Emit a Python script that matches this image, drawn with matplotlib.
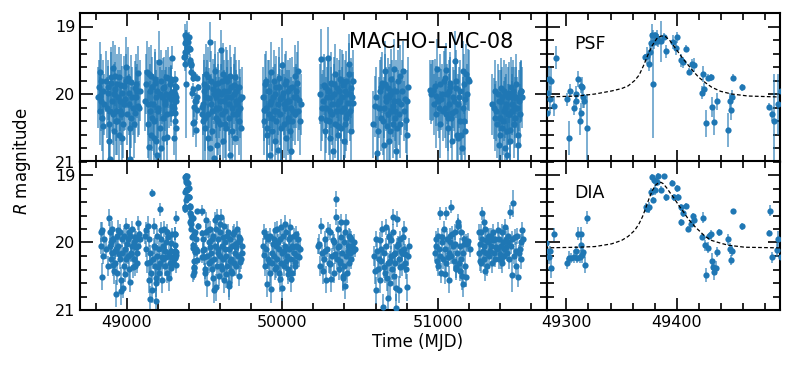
import numpy as np
import matplotlib
matplotlib.use("Agg")
import matplotlib.pyplot as plt
from matplotlib.ticker import MultipleLocator, FixedLocator, FormatStrFormatter

# ---------------- PSF photometry (MJD, R mag, error) ----------------
psf_t_s1 = [48822, 48826, 48831, 48837, 48848, 48869, 48880, 48886, 48891, 48895, 48901, 48912, 48916, 48923, 48929, 48933, 48944, 48955, 48966, 48972, 48981, 48994, 48998, 49009, 49015, 49019, 49024, 49030, 49041, 49051, 49062, 49073, 49079,
            48818, 48828, 48834, 48840, 48845, 48852, 48875, 48883, 48889, 48898, 48905, 48909, 48920, 48926, 48938, 48941, 48948, 48952, 48960, 48963, 48969, 48977, 48985, 48990, 49004, 49012, 49027, 49035, 49045, 49055, 49058, 49066, 49070, 49083]
psf_m_s1 = [19.89, 19.68, 20.03, 20.10, 20.48, 19.81, 19.98, 20.70, 20.25, 20.97, 19.83, 19.61, 20.00, 19.73, 20.40, 20.25, 20.05, 20.25, 19.86, 20.65, 20.15, 19.60, 19.81, 19.76, 19.98, 20.97, 20.50, 20.35, 20.20, 19.91, 20.05, 19.69, 20.21,
            20.05, 20.25, 19.80, 20.35, 19.95, 20.15, 20.20, 19.90, 20.45, 19.75, 20.10, 20.30, 20.55, 19.92, 19.85, 20.40, 20.60, 19.75, 20.10, 20.30, 19.98, 20.45, 19.88, 20.08, 20.30, 20.15, 19.82, 20.05, 20.45, 20.28, 19.85, 19.95, 20.18, 19.95]
psf_e_s1 = [0.40, 0.45, 0.35, 0.45, 0.50, 0.45, 0.40, 0.50, 0.45, 0.55, 0.45, 0.40, 0.45, 0.45, 0.50, 0.45, 0.40, 0.45, 0.45, 0.50,
            0.40, 0.45, 0.40, 0.45, 0.40, 0.55, 0.45, 0.45, 0.40, 0.40, 0.45, 0.40, 0.40, 0.45, 0.50, 0.40, 0.50, 0.45, 0.45, 0.45,
            0.40, 0.50, 0.45, 0.45, 0.45, 0.50, 0.40, 0.45, 0.50, 0.50, 0.45, 0.45, 0.45, 0.40, 0.50, 0.45, 0.45, 0.45, 0.45, 0.40,
            0.45, 0.50, 0.45, 0.45, 0.40, 0.45, 0.45, 0.45, 0.45, 0.45]

psf_t_s2 = [49131, 49137, 49144, 49152, 49159, 49165, 49174, 49180, 49186, 49195, 49201, 49208, 49212, 49223, 49234, 49244, 49255, 49259, 49266,
            49120, 49127, 49134, 49141, 49147, 49155, 49162, 49169, 49177, 49183, 49189, 49198, 49204, 49215, 49219, 49227, 49231, 49238, 49241, 49248, 49251, 49262, 49270, 49276]
psf_m_s2 = [19.67, 20.15, 20.78, 19.95, 19.73, 20.35, 20.65, 19.83, 20.05, 20.90, 20.25, 19.52, 20.00, 20.80, 19.91, 20.15, 20.00, 20.63, 19.76,
            20.10, 19.85, 20.45, 19.70, 20.25, 20.60, 19.90, 20.15, 20.40, 19.78, 20.70, 19.95, 20.20, 20.50, 19.80, 20.05, 20.35, 19.90, 20.65, 20.10, 19.75, 20.30, 20.05, 19.85]
psf_e_s2 = [0.45, 0.45, 0.50, 0.40, 0.45, 0.50, 0.50, 0.45, 0.40, 0.55, 0.45, 0.45, 0.40, 0.50, 0.45, 0.45, 0.40, 0.50, 0.45,
            0.45, 0.45, 0.50, 0.40, 0.45, 0.50, 0.45, 0.45, 0.50, 0.45, 0.55, 0.45, 0.45, 0.50, 0.45, 0.40, 0.45, 0.45, 0.50, 0.45, 0.40, 0.45, 0.45, 0.40, 0.45]

psf_t_ev = [49282.7, 49283.9, 49284.8, 49285.8, 49282.7, 49288.8, 49290.9, 49300.9, 49302.1, 49303.0, 49307.0, 49308.2, 49309.1, 49310.6, 49312.1, 49313.0, 49313.0, 49314.2, 49315.1, 49316.0, 49318.2,
            49371.2, 49373.6, 49374.8, 49375.8, 49376.7, 49377.9, 49378.8, 49379.7, 49380.3, 49381.8, 49383.3, 49385.8, 49388.8, 49390.0, 49397.0, 49399.1, 49400.0, 49404.0, 49406.0, 49409.0,
            49411.2, 49413.6, 49416.0, 49422.7, 49424.2, 49425.1, 49426.7, 49428.8, 49431.2, 49432.4, 49434.2, 49436.4, 49447.0, 49448.5, 49449.4, 49450.6, 49451.5, 49459.7, 49484.0, 49487.0, 49488.2]
psf_m_ev = [19.99, 19.78, 20.08, 19.81, 20.28, 20.18, 19.46, 20.08, 20.65, 19.95, 20.21, 20.11, 20.00, 19.78, 20.40, 19.88, 20.28, 19.90, 20.05, 20.10, 20.50,
            19.45, 19.43, 19.56, 19.38, 19.24, 19.12, 19.85, 19.23, 19.13, 19.17, 19.21, 19.22, 19.15, 19.37, 19.23, 19.32, 19.16, 19.50, 19.53, 19.33,
            19.67, 19.56, 19.57, 19.98, 19.70, 19.93, 20.43, 19.76, 19.75, 20.19, 20.41, 20.11, 20.53, 20.10, 20.23, 20.04, 19.76, 19.90, 20.19, 20.30, 20.40]
psf_e_ev = [0.42, 0.20, 0.20, 0.20, 0.20, 0.15, 0.17, 0.10, 0.25, 0.10, 0.10, 0.10, 0.12, 0.12, 0.20, 0.10, 0.15, 0.15, 0.15, 0.10, 0.50,
            0.05, 0.12, 0.10, 0.15, 0.15, 0.15, 0.80, 0.10, 0.05, 0.12, 0.10, 0.30, 0.05, 0.10, 0.10, 0.10, 0.08, 0.10, 0.08, 0.05,
            0.05, 0.08, 0.10, 0.10, 0.12, 0.10, 0.20, 0.05, 0.05, 0.15, 0.20, 0.12, 0.25, 0.12, 0.15, 0.10, 0.05, 0.05, 0.05, 0.10, 0.70]

psf_t_s3 = [49495, 49502, 49512, 49523, 49529, 49534, 49538, 49544, 49551, 49555, 49559, 49566, 49572, 49577, 49581, 49587, 49594, 49598, 49604, 49609, 49615, 49620, 49624, 49630, 49637, 49641, 49652, 49658, 49662, 49667, 49673, 49684, 49688, 49694, 49701, 49705, 49716, 49722, 49727,
            49492, 49498, 49506, 49509, 49516, 49520, 49526, 49541, 49548, 49562, 49569, 49575, 49584, 49590, 49601, 49612, 49618, 49627, 49634, 49644, 49648, 49655, 49670, 49677, 49680, 49691, 49697, 49709, 49712, 49719, 49731, 49736, 49742]
psf_m_s3 = [19.95, 20.50, 19.71, 20.65, 20.06, 19.23, 20.80, 19.81, 20.25, 19.93, 20.95, 19.66, 20.35, 20.05, 20.75, 19.83, 20.20, 20.45, 19.35, 20.00, 19.81, 20.70, 20.10, 20.25, 19.76, 20.50, 19.95, 20.15, 19.73, 20.90, 20.05, 20.30, 19.86, 20.65, 20.10, 19.95, 20.25, 20.40, 20.08,
            20.15, 19.85, 20.35, 20.05, 19.90, 20.30, 19.75, 20.15, 20.55, 20.00, 19.85, 20.20, 19.95, 20.40, 20.10, 20.30, 19.70, 19.95, 20.45, 20.05, 19.80, 20.35, 19.90, 20.20, 20.55, 20.00, 19.75, 20.30, 20.15, 19.90, 20.20, 20.50, 20.05]
psf_e_s3 = [0.45, 0.50, 0.45, 0.50, 0.45, 0.30, 0.50, 0.45, 0.45, 0.45, 0.55, 0.45, 0.45, 0.45, 0.50, 0.45, 0.45, 0.50, 0.30, 0.45,
            0.45, 0.50, 0.45, 0.45, 0.45, 0.50, 0.45, 0.45, 0.45, 0.55, 0.45, 0.45, 0.45, 0.50, 0.45, 0.45, 0.45, 0.50, 0.45,
            0.45, 0.45, 0.50, 0.45, 0.40, 0.50, 0.45, 0.45, 0.50, 0.45, 0.45, 0.45, 0.40, 0.50, 0.45, 0.45, 0.45, 0.45, 0.50, 0.45,
            0.45, 0.50, 0.45, 0.45, 0.50, 0.45, 0.45, 0.45, 0.45, 0.40, 0.45, 0.50, 0.45, 0.45, 0.45]

psf_t_s4 = [49881, 49894, 49902, 49909, 49920, 49924, 49930, 49937, 49941, 49952, 49958, 49967, 49973, 49980, 49984, 49990, 49995, 50001, 50005, 50016, 50022, 50027, 50037, 50044, 50052, 50059, 50070, 50080, 50087, 50095, 50102, 50108,
            49877, 49886, 49890, 49898, 49905, 49913, 49917, 49927, 49933, 49945, 49948, 49955, 49962, 49970, 49977, 49987, 49998, 50009, 50012, 50019, 50031, 50034, 50040, 50048, 50056, 50063, 50066, 50075, 50084, 50091, 50099, 50112, 50118]
psf_m_s4 = [20.24, 19.81, 20.51, 19.95, 20.90, 20.15, 19.68, 20.35, 20.05, 20.70, 19.89, 20.25, 20.83, 19.76, 20.08, 20.50, 21.00, 19.57, 19.98, 20.20, 20.65, 19.81, 20.40, 20.10, 19.91, 20.85, 20.25, 19.73, 20.05, 19.83, 19.66, 20.09,
            20.05, 20.40, 19.85, 20.20, 20.60, 19.95, 20.30, 20.10, 20.55, 19.80, 20.25, 20.00, 20.40, 20.15, 19.90, 20.30, 20.05, 20.45, 20.15, 19.85, 20.10, 20.35, 19.95, 20.55, 20.20, 19.90, 20.40, 20.05, 20.30, 19.95, 20.25, 20.40, 20.15]
psf_e_s4 = [0.45, 0.45, 0.50, 0.45, 0.55, 0.45, 0.45, 0.50, 0.45, 0.50, 0.45, 0.45, 0.55, 0.45, 0.45, 0.50, 0.55, 0.40, 0.45, 0.45,
            0.50, 0.45, 0.50, 0.45, 0.45, 0.55, 0.45, 0.45, 0.45, 0.45, 0.45, 0.45,
            0.45, 0.50, 0.45, 0.45, 0.50, 0.45, 0.45, 0.40, 0.50, 0.45, 0.45, 0.45, 0.50, 0.45, 0.45, 0.45, 0.40, 0.50, 0.45, 0.45,
            0.45, 0.50, 0.45, 0.50, 0.45, 0.45, 0.50, 0.45, 0.45, 0.40, 0.45, 0.50, 0.45, 0.45, 0.45]

psf_t_s5 = [50248, 50258, 50267, 50280, 50288, 50295, 50301, 50305, 50310, 50316, 50323, 50327, 50331, 50338, 50344, 50353, 50359, 50365, 50370, 50380, 50387, 50391, 50395, 50402, 50408, 50413, 50423, 50430, 50434, 50445, 50455,
            50244, 50252, 50262, 50272, 50276, 50284, 50292, 50298, 50313, 50319, 50334, 50341, 50349, 50356, 50362, 50374, 50377, 50383, 50398, 50405, 50416, 50419, 50427, 50438, 50441, 50449, 50452]
psf_m_s5 = [19.48, 20.20, 19.86, 20.38, 20.05, 19.46, 19.95, 20.25, 20.65, 19.83, 20.15, 20.85, 20.00, 19.71, 20.25, 19.91, 20.48, 20.10, 19.78, 20.25, 20.05, 19.86, 20.70, 19.95, 20.35, 19.81, 20.13, 19.56, 20.00, 19.91, 20.13,
            20.00, 20.35, 20.10, 19.90, 20.55, 20.20, 19.95, 20.40, 20.05, 20.30, 19.85, 20.45, 20.15, 20.60, 19.95, 20.10, 20.50, 19.80, 20.20, 20.45, 20.00, 20.30, 19.70, 20.25, 20.55, 20.05, 19.80]
psf_e_s5 = [0.45, 0.50, 0.45, 0.50, 0.45, 0.45, 0.45, 0.45, 0.50, 0.45, 0.45, 0.55, 0.45, 0.45, 0.45, 0.45, 0.50, 0.45, 0.45, 0.45,
            0.45, 0.45, 0.50, 0.45, 0.50, 0.45, 0.45, 0.45, 0.45, 0.45, 0.45,
            0.45, 0.50, 0.45, 0.45, 0.50, 0.45, 0.45, 0.50, 0.45, 0.45, 0.40, 0.50, 0.45, 0.50, 0.45, 0.45, 0.50, 0.45, 0.45, 0.50,
            0.45, 0.45, 0.45, 0.45, 0.50, 0.45, 0.45, 0.45, 0.45]

psf_t_s6 = [50595, 50610, 50627, 50638, 50644, 50653, 50659, 50666, 50674, 50681, 50687, 50696, 50702, 50713, 50719, 50723, 50730, 50738, 50745, 50756, 50766, 50777, 50788, 50794, 50803,
            50585, 50600, 50615, 50620, 50632, 50648, 50656, 50662, 50670, 50677, 50684, 50692, 50699, 50706, 50710, 50716, 50727, 50734, 50742, 50750, 50760, 50771, 50781, 50799, 50810]
psf_m_s6 = [20.18, 20.88, 19.95, 20.35, 19.83, 20.20, 19.66, 20.05, 20.48, 19.91, 20.70, 20.00, 19.78, 20.18, 19.63, 20.25, 19.95, 20.50, 20.10, 19.73, 20.15, 19.66, 20.08, 20.38, 20.60,
            20.45, 20.05, 20.55, 20.20, 19.90, 20.40, 20.75, 19.85, 20.10, 20.30, 20.05, 20.55, 20.25, 19.95, 20.45, 20.10, 20.35, 20.85, 19.80, 20.30, 20.45, 19.95, 20.25, 20.10, 19.90]
psf_e_s6 = [0.45, 0.55, 0.45, 0.50, 0.45, 0.45, 0.45, 0.45, 0.50, 0.45, 0.50, 0.45, 0.45, 0.45, 0.45, 0.45, 0.45, 0.50, 0.45, 0.45,
            0.45, 0.45, 0.45, 0.50, 0.50,
            0.50, 0.45, 0.50, 0.45, 0.45, 0.50, 0.55, 0.45, 0.45, 0.45, 0.45, 0.50, 0.45, 0.45, 0.50, 0.45, 0.45, 0.55, 0.45, 0.45,
            0.50, 0.45, 0.45, 0.45, 0.45, 0.45]

psf_t_s7 = [50953, 50970, 50987, 50996, 51008, 51023, 51034, 51039, 51045, 51056, 51060, 51066, 51073, 51081, 51094, 51103, 51109, 51120, 51131, 51137, 51146, 51152, 51159, 51163, 51174, 51184, 51195,
            50958, 50965, 50975, 50980, 50991, 51001, 51012, 51017, 51027, 51049, 51052, 51063, 51070, 51077, 51085, 51089, 51098, 51112, 51116, 51125, 51128, 51141, 51156, 51167, 51170, 51178, 51188, 51200]
psf_m_s7 = [19.94, 19.94, 20.03, 19.63, 20.20, 20.08, 20.25, 19.81, 19.76, 20.30, 20.00, 20.35, 19.95, 19.83, 20.28, 20.10, 19.51, 19.91, 20.65, 20.05, 20.40, 20.60, 19.66, 20.20, 20.08, 19.71, 19.78,
            20.00, 19.95, 20.15, 19.88, 20.30, 20.10, 19.85, 20.45, 20.00, 20.20, 19.65, 20.50, 20.15, 19.90, 20.35, 20.70, 20.05, 20.25, 19.80, 20.60, 20.15, 19.95, 20.80, 20.40, 19.85, 20.55, 20.00, 19.80]
psf_e_s7 = [0.45, 0.45, 0.45, 0.45, 0.45, 0.45, 0.45, 0.45, 0.45, 0.50, 0.45, 0.50, 0.45, 0.45, 0.45, 0.45, 0.45, 0.45, 0.50, 0.45,
            0.50, 0.50, 0.45, 0.45, 0.45, 0.45, 0.45,
            0.45, 0.45, 0.45, 0.40, 0.50, 0.45, 0.45, 0.50, 0.45, 0.45, 0.40, 0.50, 0.45, 0.45, 0.45, 0.55, 0.45, 0.45, 0.45, 0.50,
            0.45, 0.45, 0.55, 0.50, 0.45, 0.50, 0.45, 0.45, 0.45]

psf_t_s8 = [51360, 51377, 51388, 51394, 51399, 51405, 51409, 51416, 51424, 51431, 51437, 51441, 51446, 51452, 51459, 51467, 51474, 51480, 51484, 51495, 51506, 51517, 51527, 51538,
            51350, 51366, 51371, 51383, 51391, 51402, 51412, 51420, 51427, 51434, 51443, 51449, 51456, 51463, 51470, 51477, 51487, 51491, 51499, 51502, 51510, 51513, 51521, 51531, 51534, 51542]
psf_m_s8 = [20.21, 20.25, 20.00, 20.75, 20.35, 20.10, 19.91, 20.50, 20.25, 20.80, 20.00, 20.15, 20.90, 20.30, 19.98, 20.53, 20.05, 20.25, 19.95, 20.20, 20.05, 20.60, 19.98, 19.96,
            20.15, 20.35, 19.95, 20.45, 20.10, 20.60, 20.05, 20.40, 19.95, 20.20, 20.55, 20.05, 20.30, 20.70, 19.90, 20.15, 20.45, 20.05, 20.35, 19.85, 20.20, 20.75, 20.10, 20.30, 19.95, 20.05]
psf_e_s8 = [0.45, 0.45, 0.45, 0.50, 0.45, 0.45, 0.45, 0.50, 0.45, 0.50, 0.45, 0.45, 0.55, 0.45, 0.45, 0.50, 0.45, 0.45, 0.45, 0.45,
            0.45, 0.50, 0.45, 0.45,
            0.45, 0.50, 0.45, 0.50, 0.45, 0.50, 0.45, 0.50, 0.45, 0.45, 0.50, 0.45, 0.45, 0.55, 0.45, 0.45, 0.50, 0.45, 0.45, 0.45,
            0.45, 0.55, 0.45, 0.45, 0.45, 0.45, 0.45]

# ---------------- DIA photometry ----------------
dia_t_s1 = [48843, 48843, 48886, 48891, 48901, 48912, 48912, 48918, 48923, 48929, 48944, 48951, 48966, 48976, 48987, 48998, 49002, 49015, 49019, 49030, 49041, 49051, 49062, 49073, 49079,
            48834, 48838, 48848, 48855, 48870, 48880, 48894, 48897, 48905, 48908, 48915, 48926, 48933, 48937, 48940, 48947, 48955, 48958, 48962, 48969, 48972, 48980, 48983, 48991, 48994, 49006, 49009, 49012, 49024, 49027, 49034, 49037, 49045, 49048, 49055, 49058, 49066, 49069, 49076, 49083]
dia_m_s1 = [19.82, 20.51, 19.63, 19.84, 20.00, 19.95, 20.34, 20.42, 20.12, 20.76, 19.82, 20.17, 20.72, 20.67, 20.47, 19.75, 20.02, 19.85, 20.59, 20.17, 20.37, 19.92, 20.07, 19.71, 19.87,
            20.05, 19.85, 20.20, 19.95, 20.10, 20.35, 20.05, 20.25, 19.80, 20.15, 19.95, 20.30, 20.10, 19.90, 20.45, 20.05, 19.85, 20.25, 20.55, 19.95, 20.15, 20.35, 19.90, 20.10, 20.25, 19.95, 20.20, 20.40, 19.90, 20.15, 20.05, 19.80, 20.25, 20.00, 20.35, 19.95, 20.15, 20.30, 20.05, 19.95]
dia_e_s1 = [0.12, 0.20, 0.12, 0.15, 0.18, 0.12, 0.15, 0.20, 0.12, 0.20, 0.15, 0.12, 0.20, 0.15, 0.12, 0.12, 0.15, 0.12, 0.15, 0.12,
            0.15, 0.12, 0.12, 0.10, 0.12,
            0.12, 0.15, 0.12, 0.12, 0.15, 0.15, 0.12, 0.15, 0.12, 0.12, 0.12, 0.15, 0.12, 0.12, 0.18, 0.12, 0.12, 0.15, 0.18, 0.12,
            0.12, 0.15, 0.12, 0.12, 0.15, 0.12, 0.12, 0.15, 0.12, 0.12, 0.12, 0.12, 0.15, 0.12, 0.15, 0.12, 0.12, 0.15, 0.12, 0.12]

dia_t_s2 = [49122, 49137, 49148, 49148, 49165, 49174, 49180, 49186, 49191, 49201, 49212, 49223, 49229, 49244, 49255, 49266, 49272,
            49118, 49126, 49130, 49141, 49144, 49152, 49156, 49160, 49169, 49177, 49183, 49189, 49195, 49198, 49205, 49208, 49216, 49219, 49226, 49233, 49236, 49240, 49248, 49251, 49259, 49262, 49269, 49276]
dia_m_s2 = [19.82, 19.75, 20.29, 20.84, 19.26, 19.75, 20.07, 20.52, 20.87, 20.37, 19.51, 19.82, 20.22, 20.12, 20.22, 19.92, 20.52,
            19.90, 20.10, 20.30, 20.55, 19.95, 20.15, 20.45, 20.70, 20.25, 20.05, 20.35, 20.60, 19.90, 20.20, 20.45, 20.10, 20.30, 19.95, 20.55, 20.05, 20.25, 19.80, 20.35, 20.00, 20.45, 19.85, 20.15, 20.30]
dia_e_s2 = [0.12, 0.15, 0.15, 0.20, 0.06, 0.12, 0.15, 0.20, 0.20, 0.15, 0.10, 0.12, 0.15, 0.12, 0.15, 0.12, 0.20,
            0.12, 0.12, 0.15, 0.20, 0.12, 0.12, 0.15, 0.20, 0.15, 0.12, 0.15, 0.20, 0.12, 0.12, 0.15, 0.12, 0.15, 0.12, 0.20, 0.12,
            0.15, 0.12, 0.15, 0.12, 0.15, 0.12, 0.12, 0.15]

dia_t_ev = [49281.8, 49282.7, 49283.9, 49284.8, 49285.8, 49288.8, 49300.9, 49302.1, 49303.9, 49307.0, 49308.2, 49310.0, 49310.6, 49312.1, 49313.0, 49313.6, 49314.2, 49315.1, 49316.7, 49318.2,
            49371.8, 49373.6, 49374.8, 49376.7, 49377.3, 49378.8, 49379.7, 49380.3, 49381.8, 49383.3, 49385.8, 49388.8, 49390.0, 49395.5, 49397.9, 49400.0, 49401.5, 49404.0, 49404.5, 49406.0,
            49409.0, 49410.6, 49413.0, 49415.2, 49416.0, 49422.7, 49424.2, 49425.8, 49426.7, 49428.2, 49429.4, 49431.2, 49432.4, 49433.3, 49434.2, 49435.5, 49436.4, 49438.5, 49447.0, 49448.5,
            49449.4, 49450.6, 49451.5, 49459.7, 49484.0, 49484.8, 49487.0, 49490.9]
dia_m_ev = [20.01, 20.12, 20.22, 20.13, 20.38, 19.88, 20.31, 20.23, 20.23, 20.21, 20.13, 20.23, 19.87, 20.21, 20.03, 19.87, 20.19, 20.14, 20.33, 19.63,
            19.47, 19.50, 19.48, 19.25, 19.03, 19.37, 19.08, 19.22, 19.11, 19.02, 19.22, 19.01, 19.33, 19.12, 19.33, 19.20, 19.33, 19.48, 19.70, 19.57,
            19.46, 19.80, 19.72, 19.61, 19.66, 19.92, 19.63, 20.04, 20.48, 20.08, 19.91, 19.87, 20.28, 20.37, 20.44, 20.38, 20.14, 19.85, 19.95, 20.09,
            20.26, 20.12, 19.54, 19.76, 19.86, 19.53, 20.22, 20.11]
dia_e_ev = [0.15, 0.10, 0.10, 0.08, 0.15, 0.10, 0.08, 0.10, 0.08, 0.10, 0.08, 0.08, 0.10, 0.10, 0.10, 0.10, 0.12, 0.08, 0.12, 0.10,
            0.05, 0.05, 0.08, 0.05, 0.05, 0.05, 0.05, 0.08, 0.05, 0.05, 0.05, 0.03, 0.05, 0.05, 0.05, 0.05, 0.05, 0.05, 0.05, 0.05,
            0.05, 0.05, 0.05, 0.05, 0.05, 0.05, 0.08, 0.08, 0.10, 0.08, 0.05, 0.05, 0.12, 0.10, 0.12, 0.10, 0.08, 0.05, 0.08, 0.08,
            0.08, 0.08, 0.03, 0.05, 0.05, 0.08, 0.08, 0.10]

dia_t_s3 = [49495, 49502, 49512, 49523, 49530, 49534, 49544, 49550, 49555, 49566, 49572, 49581, 49590, 49598, 49605, 49609, 49620, 49630, 49641, 49650, 49660, 49662, 49673, 49684, 49690, 49694, 49705, 49710, 49722, 49727, 49740,
            49492, 49498, 49505, 49508, 49516, 49519, 49527, 49537, 49541, 49547, 49553, 49559, 49562, 49569, 49575, 49578, 49585, 49587, 49594, 49601, 49603, 49612, 49615, 49618, 49624, 49627, 49634, 49637, 49645, 49648, 49655, 49658, 49666, 49669, 49677, 49680, 49687, 49698, 49701, 49713, 49716, 49719, 49730, 49734, 49744]
dia_m_s3 = [20.22, 20.39, 19.67, 19.82, 20.30, 20.07, 20.27, 19.95, 20.52, 19.67, 20.66, 19.62, 20.15, 19.72, 20.35, 19.62, 19.92, 20.10, 20.47, 19.85, 20.60, 20.27, 20.42, 19.87, 20.30, 20.02, 20.07, 19.80, 19.92, 20.29, 20.15,
            19.95, 20.10, 20.45, 19.85, 20.20, 20.60, 20.00, 19.80, 20.15, 20.40, 19.90, 20.25, 20.70, 20.05, 19.80, 20.35, 20.10, 19.95, 20.50, 20.20, 19.85, 20.05, 20.40, 20.25, 19.75, 20.55, 20.00, 20.20, 19.90, 20.35, 20.10, 20.65, 19.95, 20.25, 20.05, 20.45, 19.85, 20.15, 20.35, 20.00, 20.20, 20.50, 19.95, 20.25, 20.05]
dia_e_s3 = [0.12, 0.15, 0.12, 0.12, 0.15, 0.12, 0.15, 0.12, 0.20, 0.12, 0.20, 0.12, 0.15, 0.12, 0.15, 0.12, 0.12, 0.12, 0.20, 0.12,
            0.20, 0.15, 0.15, 0.12, 0.15, 0.12, 0.12, 0.12, 0.12, 0.15, 0.15,
            0.12, 0.12, 0.15, 0.12, 0.12, 0.20, 0.12, 0.12, 0.12, 0.15, 0.12, 0.15, 0.20, 0.12, 0.12, 0.15, 0.12, 0.12, 0.15, 0.12,
            0.12, 0.12, 0.15, 0.15, 0.12, 0.20, 0.12, 0.12, 0.12, 0.15, 0.12, 0.20, 0.12, 0.15, 0.12, 0.15, 0.12, 0.12, 0.15, 0.12,
            0.12, 0.15, 0.12, 0.15, 0.12]

dia_t_s4 = [49881, 49898, 49902, 49915, 49930, 49941, 49952, 49962, 49973, 49984, 49995, 50001, 50010, 50016, 50027, 50037, 50048, 50052, 50059, 50070, 50080, 50091, 50102, 50108,
            49877, 49885, 49890, 49894, 49906, 49909, 49920, 49924, 49934, 49937, 49945, 49948, 49956, 49958, 49966, 49969, 49977, 49980, 49988, 49991, 49998, 50005, 50013, 50020, 50023, 50031, 50034, 50041, 50044, 50055, 50062, 50066, 50074, 50077, 50084, 50087, 50095, 50099, 50112]
dia_m_s4 = [20.19, 19.90, 20.61, 20.29, 20.69, 20.02, 19.82, 20.37, 19.99, 20.54, 19.77, 20.67, 20.12, 19.72, 20.27, 20.47, 19.92, 19.77, 20.54, 20.07, 20.29, 19.87, 20.07, 20.22,
            20.05, 19.85, 20.35, 20.10, 19.95, 20.25, 20.45, 19.90, 20.15, 20.30, 19.95, 20.20, 20.40, 20.05, 19.80, 20.25, 20.45, 20.10, 19.95, 20.30, 20.15, 19.90, 20.35, 20.05, 19.85, 20.20, 20.40, 20.10, 19.95, 20.25, 20.05, 20.45, 19.90, 20.15, 20.35, 20.05, 20.20, 19.95, 20.10]
dia_e_s4 = [0.15, 0.12, 0.20, 0.15, 0.20, 0.12, 0.12, 0.15, 0.12, 0.20, 0.12, 0.20, 0.12, 0.12, 0.15, 0.15, 0.12, 0.12, 0.20, 0.12,
            0.15, 0.12, 0.12, 0.15,
            0.12, 0.12, 0.15, 0.12, 0.12, 0.15, 0.15, 0.12, 0.12, 0.15, 0.12, 0.12, 0.15, 0.12, 0.12, 0.15, 0.15, 0.12, 0.12, 0.15,
            0.12, 0.12, 0.15, 0.12, 0.12, 0.12, 0.15, 0.12, 0.12, 0.15, 0.12, 0.15, 0.12, 0.12, 0.15, 0.12, 0.12, 0.12, 0.12]

dia_t_s5 = [50237, 50263, 50273, 50295, 50305, 50316, 50327, 50338, 50344, 50348, 50359, 50370, 50380, 50391, 50402, 50413, 50423, 50434, 50445, 50455,
            50232, 50245, 50250, 50256, 50268, 50278, 50284, 50290, 50299, 50310, 50320, 50331, 50334, 50352, 50356, 50363, 50367, 50374, 50377, 50385, 50388, 50395, 50398, 50406, 50409, 50417, 50420, 50427, 50430, 50438, 50441, 50450, 50460, 50466]
dia_m_s5 = [20.02, 20.42, 20.12, 19.82, 20.32, 20.54, 19.97, 20.17, 19.35, 19.62, 20.07, 20.27, 19.92, 20.52, 20.64, 19.70, 20.12, 19.92, 19.95, 20.12,
            20.05, 20.35, 19.75, 20.15, 20.25, 19.95, 20.55, 20.10, 20.30, 19.85, 20.20, 20.45, 20.00, 20.25, 19.80, 20.40, 20.05, 20.30, 19.70, 20.15, 20.50, 20.00, 20.35, 19.85, 20.20, 20.45, 20.05, 20.30, 19.90, 20.15, 20.25, 20.05, 20.00, 20.10]
dia_e_s5 = [0.15, 0.20, 0.15, 0.12, 0.15, 0.20, 0.12, 0.15, 0.12, 0.12, 0.15, 0.15, 0.12, 0.20, 0.20, 0.12, 0.15, 0.12, 0.12, 0.15,
            0.12, 0.15, 0.12, 0.12, 0.15, 0.12, 0.20, 0.12, 0.15, 0.12, 0.12, 0.15, 0.12, 0.15, 0.12, 0.15, 0.12, 0.15, 0.12, 0.12,
            0.20, 0.12, 0.15, 0.12, 0.12, 0.15, 0.12, 0.15, 0.12, 0.12, 0.15, 0.12, 0.12, 0.12]

dia_t_s6 = [50595, 50606, 50610, 50627, 50638, 50648, 50653, 50666, 50674, 50681, 50687, 50696, 50702, 50713, 50719, 50730, 50734, 50738, 50745, 50756, 50766, 50777, 50788, 50798, 50803,
            50588, 50600, 50615, 50620, 50631, 50634, 50643, 50657, 50660, 50670, 50677, 50684, 50691, 50699, 50707, 50710, 50716, 50723, 50727, 50741, 50749, 50752, 50760, 50770, 50773, 50781, 50784, 50792, 50808, 50815]
dia_m_s6 = [20.42, 20.71, 20.12, 19.97, 20.27, 20.96, 20.37, 19.77, 20.52, 20.82, 19.92, 20.27, 19.97, 19.62, 20.17, 20.67, 20.97, 19.65, 20.02, 20.37, 20.12, 19.92, 20.17, 20.39, 20.66,
            20.20, 19.95, 20.40, 20.25, 20.55, 20.10, 19.80, 20.15, 20.45, 20.05, 20.30, 19.90, 20.60, 20.20, 20.40, 19.85, 20.50, 20.15, 20.30, 20.05, 20.25, 20.70, 19.95, 20.15, 20.35, 20.10, 19.80, 20.30, 20.20, 20.05]
dia_e_s6 = [0.20, 0.20, 0.15, 0.12, 0.15, 0.20, 0.15, 0.12, 0.20, 0.20, 0.12, 0.15, 0.12, 0.12, 0.15, 0.20, 0.20, 0.12, 0.12, 0.15,
            0.12, 0.12, 0.15, 0.15, 0.20,
            0.15, 0.12, 0.15, 0.15, 0.20, 0.12, 0.12, 0.12, 0.15, 0.12, 0.15, 0.12, 0.20, 0.15, 0.15, 0.12, 0.20, 0.12, 0.15, 0.12,
            0.15, 0.20, 0.12, 0.12, 0.15, 0.12, 0.12, 0.15, 0.15, 0.12]

dia_t_s7 = [50987, 50996, 51008, 51017, 51030, 51045, 51056, 51066, 51077, 51088, 51094, 51103, 51109, 51120, 51131, 51141, 51152, 51159, 51167, 51180, 51189,
            50982, 50991, 51000, 51004, 51012, 51021, 51025, 51034, 51038, 51049, 51052, 51060, 51070, 51073, 51081, 51084, 51098, 51113, 51116, 51124, 51127, 51135, 51145, 51148, 51156, 51163, 51171, 51175, 51184, 51195, 51204]
dia_m_s7 = [19.95, 20.27, 20.09, 19.57, 19.92, 20.47, 19.57, 20.22, 20.00, 19.47, 19.87, 20.27, 20.02, 20.37, 19.75, 20.42, 19.85, 20.61, 20.02, 20.51, 20.02,
            20.15, 20.05, 19.90, 20.35, 20.20, 20.45, 20.00, 20.25, 19.80, 20.10, 20.30, 19.95, 20.15, 20.55, 19.90, 20.20, 20.05, 19.85, 20.40, 20.15, 19.70, 20.30, 20.05, 20.25, 20.50, 20.15, 19.95, 20.35, 20.00, 19.98, 20.10]
dia_e_s7 = [0.12, 0.15, 0.12, 0.10, 0.12, 0.15, 0.10, 0.15, 0.12, 0.10, 0.12, 0.15, 0.12, 0.15, 0.12, 0.15, 0.12, 0.20, 0.12, 0.15,
            0.12,
            0.12, 0.12, 0.12, 0.15, 0.12, 0.15, 0.12, 0.15, 0.12, 0.12, 0.15, 0.12, 0.12, 0.20, 0.12, 0.12, 0.12, 0.12, 0.15, 0.12,
            0.12, 0.15, 0.12, 0.15, 0.20, 0.12, 0.12, 0.15, 0.12, 0.12, 0.12]

dia_t_s8 = [51270, 51274, 51281, 51287, 51291, 51296, 51302, 51313, 51324, 51334, 51345, 51356, 51377, 51388, 51399, 51409, 51420, 51431, 51441, 51452, 51463, 51474, 51484, 51495, 51506, 51517, 51527, 51544,
            51262, 51266, 51277, 51284, 51294, 51299, 51306, 51309, 51317, 51320, 51328, 51331, 51340, 51349, 51352, 51360, 51366, 51370, 51382, 51392, 51395, 51404, 51413, 51416, 51424, 51427, 51436, 51446, 51449, 51457, 51468, 51479, 51490, 51500, 51512, 51522, 51533, 51538, 51548]
dia_m_s8 = [20.02, 20.27, 19.85, 19.57, 20.12, 19.70, 20.42, 19.97, 19.92, 20.12, 19.90, 19.97, 20.07, 19.82, 20.17, 20.24, 19.99, 19.77, 20.07, 20.00, 19.55, 20.48, 19.42, 19.92, 20.12, 20.51, 20.09, 19.82,
            19.85, 20.15, 20.30, 19.95, 20.25, 20.05, 19.80, 20.15, 20.35, 20.00, 19.90, 20.20, 20.05, 20.30, 19.85, 20.15, 20.25, 19.95, 20.10, 20.25, 19.95, 20.05, 19.85, 20.30, 20.10, 20.20, 19.95, 20.15, 19.90, 20.25, 20.05, 19.95, 20.20, 20.35, 19.90, 20.15, 20.00, 20.25, 19.95]
dia_e_s8 = [0.12, 0.15, 0.12, 0.10, 0.12, 0.12, 0.15, 0.12, 0.12, 0.12, 0.12, 0.12, 0.12, 0.12, 0.12, 0.15, 0.12, 0.12, 0.12, 0.12,
            0.10, 0.25, 0.20, 0.12, 0.12, 0.15, 0.12, 0.12,
            0.12, 0.12, 0.15, 0.12, 0.12, 0.12, 0.12, 0.12, 0.15, 0.12, 0.12, 0.12, 0.12, 0.15, 0.12, 0.12, 0.12, 0.12, 0.12, 0.15,
            0.12, 0.12, 0.12, 0.15, 0.12, 0.12, 0.12, 0.12, 0.12, 0.15, 0.12, 0.12, 0.12, 0.15, 0.12, 0.12, 0.12, 0.15, 0.12]

# ---------------- microlensing model curves ----------------
psf_model_t = [49280, 49310, 49326, 49341, 49350, 49356, 49362, 49366, 49370, 49374, 49378, 49382, 49386, 49390, 49394, 49398, 49402, 49406, 49410, 49415, 49420, 49426, 49432, 49440, 49450, 49465, 49495]
psf_model_m = [20.045, 20.03, 20.00, 19.955, 19.92, 19.88, 19.80, 19.72, 19.58, 19.42, 19.28, 19.18, 19.14, 19.15, 19.21, 19.30, 19.39, 19.48, 19.56, 19.66, 19.75, 19.83, 19.90, 19.96, 20.00, 20.03, 20.045]
dia_model_t = [49280, 49310, 49326, 49341, 49350, 49356, 49362, 49366, 49369, 49372, 49375, 49378, 49381, 49384, 49386, 49388, 49391, 49394, 49398, 49402, 49406, 49411, 49417, 49426, 49432, 49440, 49447, 49462, 49495]
dia_model_m = [20.08, 20.07, 20.06, 20.02, 19.97, 19.91, 19.82, 19.72, 19.62, 19.49, 19.35, 19.23, 19.15, 19.11, 19.11, 19.13, 19.19, 19.26, 19.35, 19.45, 19.54, 19.66, 19.77, 19.91, 19.97, 20.01, 20.04, 20.07, 20.08]

left_xlim = (48700, 51700)
zoom_xlim = (49282, 49494)
ylim = (21.0, 18.8)
title_text = "MACHO-LMC-08"
row_labels = ["PSF", "DIA"]


def cat3(*groups):
    ts, ms, es = [], [], []
    for t, m, e in groups:
        n = min(len(t), len(m), len(e))
        ts.extend(t[:n]); ms.extend(m[:n]); es.extend(e[:n])
    return np.array(ts, float), np.array(ms, float), np.array(es, float)


psf_t, psf_m, psf_e = cat3((psf_t_s1, psf_m_s1, psf_e_s1), (psf_t_s2, psf_m_s2, psf_e_s2),
                           (psf_t_ev, psf_m_ev, psf_e_ev), (psf_t_s3, psf_m_s3, psf_e_s3),
                           (psf_t_s4, psf_m_s4, psf_e_s4), (psf_t_s5, psf_m_s5, psf_e_s5),
                           (psf_t_s6, psf_m_s6, psf_e_s6), (psf_t_s7, psf_m_s7, psf_e_s7),
                           (psf_t_s8, psf_m_s8, psf_e_s8))
dia_t, dia_m, dia_e = cat3((dia_t_s1, dia_m_s1, dia_e_s1), (dia_t_s2, dia_m_s2, dia_e_s2),
                           (dia_t_ev, dia_m_ev, dia_e_ev), (dia_t_s3, dia_m_s3, dia_e_s3),
                           (dia_t_s4, dia_m_s4, dia_e_s4), (dia_t_s5, dia_m_s5, dia_e_s5),
                           (dia_t_s6, dia_m_s6, dia_e_s6), (dia_t_s7, dia_m_s7, dia_e_s7),
                           (dia_t_s8, dia_m_s8, dia_e_s8))

W, H = 793, 366
fig = plt.figure(figsize=(W / 100, H / 100), dpi=100)
gs = fig.add_gridspec(2, 2, width_ratios=[2, 1], left=80 / W, right=780 / W,
                      top=1 - 13 / H, bottom=1 - 310 / H, hspace=0, wspace=0)

C0 = "#1f77b4"
rows = [(psf_t, psf_m, psf_e, psf_model_t, psf_model_m),
        (dia_t, dia_m, dia_e, dia_model_t, dia_model_m)]

for r, (t, m, e, mt, mm) in enumerate(rows):
    axl = fig.add_subplot(gs[r, 0])
    axr = fig.add_subplot(gs[r, 1])
    for ax in (axl, axr):
        ax.errorbar(t, m, yerr=e, fmt="none", ecolor=C0, elinewidth=1.1, alpha=0.75, zorder=2)
        ax.plot(t, m, "o", color=C0, ms=4.5, mew=0, zorder=3)
        ax.set_ylim(*ylim)
        ax.yaxis.set_major_locator(FixedLocator([19, 20, 21]))
        ax.yaxis.set_minor_locator(MultipleLocator(0.2))
        ax.tick_params(which="both", direction="in", top=True, right=True, width=1.2,
                       labelsize=11.5, colors="black")
        ax.tick_params(which="major", length=9)
        ax.tick_params(which="minor", length=5)
        for s in ax.spines.values():
            s.set_linewidth(1.5)
    axr.plot(mt, mm, color="black", lw=0.9, ls=(0, (3, 1.8)), zorder=4)
    axl.set_xlim(*left_xlim)
    axl.xaxis.set_major_locator(MultipleLocator(1000))
    axl.xaxis.set_minor_locator(MultipleLocator(200))
    axr.set_xlim(*zoom_xlim)
    axr.xaxis.set_major_locator(MultipleLocator(100))
    axr.xaxis.set_minor_locator(MultipleLocator(20))
    axr.tick_params(labelleft=False)
    axl.xaxis.set_major_formatter(FormatStrFormatter("%d"))
    axr.xaxis.set_major_formatter(FormatStrFormatter("%d"))
    if r == 0:
        axl.tick_params(labelbottom=False)
        axr.tick_params(labelbottom=False)
    axr.text(0.12, 0.79, row_labels[r], transform=axr.transAxes, fontsize=12.5,
             ha="left", va="center")

fig.text(349 / W, 1 - 42 / H, title_text, fontsize=15, ha="left", va="center")
fig.text(22 / W, 1 - 161.5 / H, "$R$ magnitude", rotation=90, fontsize=12,
         ha="center", va="center")
fig.text(418 / W, 1 - 342 / H, "Time (MJD)", fontsize=12, ha="center", va="center")

fig.savefig("out.png", dpi=100)
